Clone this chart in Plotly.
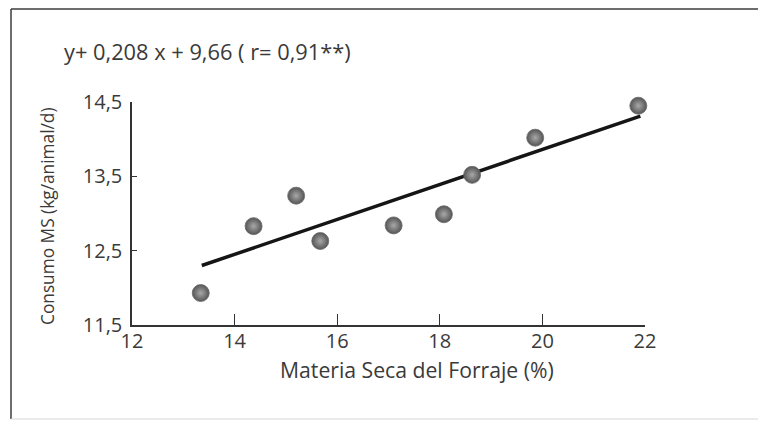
import plotly.graph_objects as go

# ---- data ----
materia_seca = [13.34, 14.37, 15.20, 15.67, 17.10, 18.08, 18.63, 19.86, 21.87]
consumo_ms = [11.93, 12.83, 13.24, 12.63, 12.84, 12.99, 13.52, 14.02, 14.45]

trend_x = [13.36, 21.91]
trend_y = [12.30, 14.31]

x_tick_vals = [12, 14, 16, 18, 20, 22]
x_tick_text = ["12", "14", "16", "18", "20", "22"]
y_tick_vals = [11.5, 12.5, 13.5, 14.5]
y_tick_text = ["11,5", "12,5", "13,5", "14,5"]

equation_text = "y+ 0,208 x + 9,66 ( r= 0,91**)"
x_title = "Materia Seca del Forraje (%)"
y_title = "Consumo MS (kg/animal/d)"

# ---- layout geometry (pixels) ----
W, H = 758, 426
L, R, T, B = 132, 113, 102, 101
PW, PH = W - L - R, H - T - B


def px(xp):
    return (xp - L) / PW


def py(yp):
    return (H - B - yp) / PH


FONT = "Open Sans"
TXT = "#3a3a3a"

fig = go.Figure()

fig.add_trace(go.Scatter(
    x=trend_x, y=trend_y, mode="lines",
    line=dict(color="#151515", width=3.5),
    hoverinfo="skip", showlegend=False, cliponaxis=False,
))

fig.add_trace(go.Scatter(
    x=materia_seca, y=consumo_ms, mode="markers",
    marker=dict(size=17, color="#555555",
                gradient=dict(type="radial", color="#a8a8a8"),
                line=dict(width=0.8, color="#6a6a6a")),
    showlegend=False, cliponaxis=False,
))

fig.update_layout(
    width=W, height=H,
    margin=dict(l=L, r=R, t=T, b=B),
    paper_bgcolor="white", plot_bgcolor="white",
    font=dict(family=FONT, size=18, color=TXT),
    xaxis=dict(
        range=[12, 22], tickvals=x_tick_vals, ticktext=x_tick_text,
        showgrid=False, zeroline=False,
        showline=True, linecolor="#333", linewidth=1.5,
        ticks="inside", ticklen=11, tickwidth=1.3, tickcolor="#333",
        tickfont=dict(family=FONT, size=20, color=TXT),
        ticklabelstandoff=-3,
    ),
    yaxis=dict(
        range=[11.5, 14.5], tickvals=y_tick_vals, ticktext=y_tick_text,
        showgrid=False, zeroline=False,
        showline=True, linecolor="#333", linewidth=1.5,
        ticks="inside", ticklen=5, tickwidth=1.3, tickcolor="#333",
        tickfont=dict(family=FONT, size=20, color=TXT),
        ticklabelstandoff=4,
    ),
    annotations=[
        dict(text=equation_text, xref="paper", yref="paper",
             x=px(62), y=py(51), xanchor="left", yanchor="middle",
             showarrow=False, font=dict(family=FONT, size=21.8, color=TXT)),
        dict(text=x_title, xref="paper", yref="paper",
             x=px(417), y=py(369), xanchor="center", yanchor="middle",
             showarrow=False, font=dict(family=FONT, size=21.2, color=TXT)),
        dict(text=y_title, xref="paper", yref="paper",
             x=px(47), y=py(216), xanchor="center", yanchor="middle",
             textangle=-90,
             showarrow=False, font=dict(family=FONT, size=17.3, color=TXT)),
    ],
    shapes=[
        dict(type="line", xref="paper", yref="paper",
             x0=px(11), x1=px(758), y0=py(9), y1=py(9),
             line=dict(color="#3c3c3c", width=1.5)),
        dict(type="line", xref="paper", yref="paper",
             x0=px(11), x1=px(11), y0=py(9), y1=py(419),
             line=dict(color="#3c3c3c", width=1.5)),
        dict(type="line", xref="paper", yref="paper",
             x0=px(11), x1=px(758), y0=py(419), y1=py(419),
             line=dict(color="#d8d8d8", width=1)),
    ],
)

fig.write_html(
    "out.html",
    config={"displayModeBar": False},
    post_script="document.body.style.margin='0px';document.body.style.overflow='hidden';",
)
